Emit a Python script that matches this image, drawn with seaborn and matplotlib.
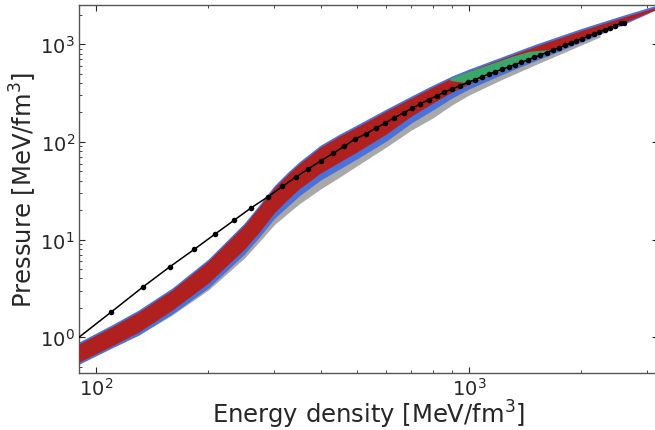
import numpy as np
import pandas as pd
import matplotlib
matplotlib.use("Agg")
import matplotlib.pyplot as plt
import seaborn as sns

# ---------------- data ----------------
# common energy-density grid for the bands [MeV/fm^3]
band_eps = [90, 110, 130, 160, 200, 250, 275, 300, 325, 350, 400, 450, 500, 600,
            700, 800, 900, 1000, 1200, 1500, 2000, 2500, 3000, 3200]

red_upper = [0.854, 1.275, 1.815, 3.05, 6.04, 14.1, 22.1, 33.7, 45.8, 59.4, 88.6,
             115, 142, 207, 281, 365, 451, 532, 689, 947, 1381, 1811, 2239, 2403]
red_lower = [0.559, 0.815, 1.133, 1.903, 3.60, 8.01, 12.2, 18.7, 25.4, 33.0, 48.1,
             62.3, 78.8, 120.5, 184, 250, 324, 391, 519, 740, 1130, 1572, 2086, 2293]

blue_upper = [0.895, 1.336, 1.903, 3.20, 6.33, 14.8, 23.1, 35.4, 48.1, 62.3, 92.9,
              120.5, 149, 217, 295, 382, 473, 557, 722, 993, 1448, 1898, 2347, 2519]
blue_lower = [0.533, 0.777, 1.056, 1.732, 3.20, 7.12, 10.8, 16.3, 21.6, 27.9, 40.7,
              52.8, 66.8, 102, 156, 212, 281, 348, 473, 673, 1053, 1500, 2038, 2293]

gray_eps = [90, 110, 130, 160, 200, 250, 275, 300, 325, 350, 400, 450, 500, 600,
            700, 800, 900, 1000, 1200, 1500, 2000, 2244]
gray_upper = [0.575, 0.84, 1.17, 1.96, 3.7, 8.25, 12.6, 19.3, 26.2, 34, 49.5,
              64.2, 81.2, 124, 190, 258, 334, 403, 535, 762, 1164, 1250]
gray_lower = [0.53, 0.775, 1.05, 1.692, 3.05, 6.48, 9.68, 14.1, 18.3, 23.1, 33.0,
              43.7, 56.7, 88.6, 132, 176, 239, 302, 420, 612, 981, 1185]

green_eps = [889, 1000, 1189, 1300, 1457, 1648]
green_upper = [450, 530, 665, 750, 850, 880]
green_lower = [425, 400, 515, 575, 690, 850]

# reference EOS (black line with dots)
ref_eps = [84.5, 109.5, 133.9, 157.8, 183.4, 208.5, 234.6, 260.3, 288.5, 316, 343,
           370.6, 400, 432.5, 463, 494.5, 528.4, 562.2, 595.5, 630.8, 667.3, 703.6,
           739.3, 778.6, 819.4, 858.6, 900.3, 946, 992, 1038, 1082, 1128, 1176, 1225,
           1276, 1328, 1382, 1438, 1495, 1554, 1614, 1676, 1740, 1805, 1872, 1941,
           2011, 2083, 2157, 2232, 2309, 2388, 2469, 2551, 2600]
ref_p = [0.83, 1.80, 3.30, 5.28, 7.96, 11.4, 15.8, 21.1, 27.3, 35, 43.5,
         52.9, 63.8, 76.5, 90.3, 107, 120.5, 137.8, 156, 177, 198, 221,
         244, 270, 297, 322, 348, 376, 407, 433, 464, 492, 521, 552,
         585, 618, 653, 691, 731, 775, 820, 868, 918, 970, 1024, 1081,
         1141, 1202, 1267, 1334, 1403, 1476, 1551, 1629, 1665]

# ---------------- plotting ----------------
sns.set_theme(style="ticks")
plt.rcParams['font.family'] = ['DejaVu Sans']

fig = plt.figure(figsize=(6.55, 4.31), dpi=100)
ax = fig.add_axes([0.1206, 0.1323, 0.884, 0.8538])

ax.fill_between(gray_eps, gray_lower, gray_upper, color="#a8a8a8", lw=0, zorder=1)
ax.fill_between(band_eps, blue_lower, blue_upper, color="#4a72d8", lw=0, zorder=2)
ax.fill_between(band_eps, red_lower, red_upper, color="#b0201e", lw=0, zorder=3)
ax.fill_between(green_eps, green_lower, green_upper, color="#3aa66a", lw=0, zorder=4)

df = pd.DataFrame({"eps": ref_eps, "p": ref_p})
sns.lineplot(data=df, x="eps", y="p", ax=ax, color="black", lw=1.1,
             marker="o", markersize=4, markeredgewidth=0, sort=False, zorder=5)

ax.set_xscale("log")
ax.set_yscale("log")
ax.set_xlim(90, 3211)
ax.set_ylim(0.4315, 2518)

ax.set_xlabel("Energy density [MeV/fm$^3$]", fontsize=17.5, labelpad=-1)
ax.set_ylabel("Pressure [MeV/fm$^3$]", fontsize=17.5, labelpad=1)
ax.tick_params(axis="both", which="major", labelsize=14, direction="in",
               length=4, width=0.8, top=True, right=True, pad=3)
ax.tick_params(axis="both", which="minor", direction="in", length=2,
               width=0.6, top=True, right=True)
for s in ax.spines.values():
    s.set_color("#555555")
    s.set_linewidth(1.0)

fig.savefig("out.png", dpi=100)
